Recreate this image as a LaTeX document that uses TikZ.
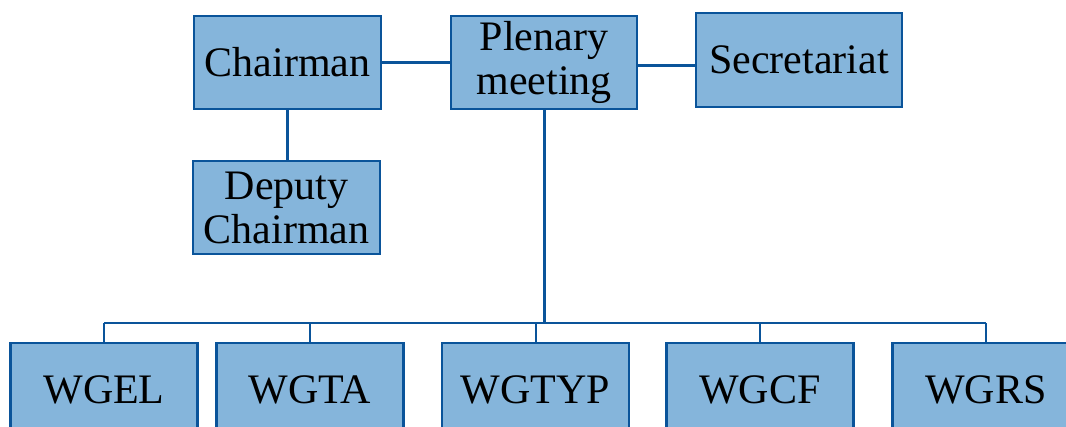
\documentclass[tikz,border=0pt]{standalone}
\usepackage{fontspec}
\newfontfamily\orgfont{LiberationSerif}[Extension=.ttf, UprightFont=*-Regular]
\definecolor{boxfill}{RGB}{133,181,219}
\definecolor{boxline}{RGB}{10,84,154}
\begin{document}
\begin{tikzpicture}[x=1pt,y=-1pt,
  orgbox/.style={draw=boxline, fill=boxfill, line width=2.2pt, rectangle, inner sep=0pt,
    minimum width=187pt, minimum height=93pt, align=center,
    font=\orgfont\fontsize{42}{44}\selectfont},
  thick conn/.style={draw=boxline, line width=3pt},
  thin conn/.style={draw=boxline, line width=2pt}]
\useasboundingbox (0,0) rectangle (1066,427);
\node[orgbox] (chair) at (287.5,62.5) {Chairman};
\node[orgbox, minimum width=186pt] (plen) at (544,62.5) {Plenary\\meeting};
\node[orgbox, minimum width=206pt, minimum height=94pt] (secr) at (799,60) {Secretariat};
\node[orgbox] (dep) at (286.5,207.5) {Deputy\\Chairman};
\node[orgbox] (wgel) at (104,389.5) {WGEL};
\node[orgbox] (wgta) at (310,389.5) {WGTA};
\node[orgbox] (wgtyp) at (535.5,389.5) {WGTYP};
\node[orgbox] (wgcf) at (760,389.5) {WGCF};
\node[orgbox] (wgrs) at (986,389.5) {WGRS};
\coordinate (bus) at (544,323);
\draw[thick conn] (chair.east) -- (plen.west);
\draw[thick conn] ([yshift=-3.5pt]plen.east) -- ([yshift=-3.5pt]plen.east -| secr.west);
\draw[thick conn] (chair.south) -- (chair.south |- dep.north);
\draw[thick conn] (plen.south) -- (plen.south |- bus);
\draw[thin conn] (wgel.north |- bus) -- (wgrs.north |- bus);
\foreach \n in {wgel,wgta,wgtyp,wgcf,wgrs}
  \draw[thin conn] (\n.north) -- (\n.north |- bus);
\end{tikzpicture}
\end{document}
